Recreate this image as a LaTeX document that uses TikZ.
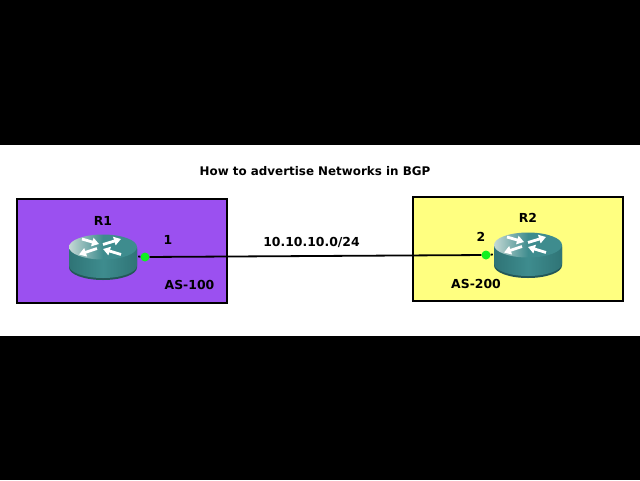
\documentclass[tikz,border=0pt]{standalone}
\usepackage{fontspec}
\setmainfont{DejaVu Sans}
\usetikzlibrary{positioning,arrows.meta}

\definecolor{asviolet}{HTML}{9B50F0}
\definecolor{asyellow}{HTML}{FFFF80}
\definecolor{routerteal}{HTML}{3E8C8E}
\definecolor{routerdark}{HTML}{2F7476}
\definecolor{routerlight}{HTML}{C4D8D4}
\definecolor{portgreen}{HTML}{10F020}

\tikzset{
	asbox/.style={draw=black,line width=1.5pt,minimum width=210pt,minimum height=104pt,inner sep=0pt},
	lbl/.style={font=\bfseries\fontsize{12.4}{14}\selectfont,inner sep=0pt},
	port/.style={circle,fill=portgreen,minimum size=9pt,inner sep=0pt},
	link/.style={draw=black,line width=1.8pt},
	swarrow/.style={white,line width=2.8pt,-{Triangle[length=7pt,width=8.5pt]}},
	router/.style={minimum width=70pt,minimum height=48pt,inner sep=0pt,
		path picture={
			\begin{scope}[shift={(path picture bounding box.center)}]
				\fill[routerdark!75!black] (-34,-8) -- (-34,11) arc[start angle=180,end angle=0,x radius=34,y radius=12.5] -- (34,-8) -- cycle;
				\shade[left color=routerdark,right color=routerdark,middle color=routerteal] (-34,-9.5) -- (-34,9) arc[start angle=180,end angle=0,x radius=34,y radius=12.5] -- (34,-9.5) -- cycle;
				\shade[left color=routerlight,right color=routerteal,middle color=routerteal] (0,-9.5) ellipse[x radius=34,y radius=12.5];
				\draw[swarrow] (-21,-17.5) -- (-4,-12.5);
				\draw[swarrow] (0,-12) -- (18,-17.5);
				\draw[swarrow] (18,-2) -- (0,-7.5);
				\draw[swarrow] (-6,-8) -- (-24,-2);
			\end{scope}
		}},
}

\begin{document}
\begin{tikzpicture}[x=1pt,y=-1pt,node distance=20pt,on grid]
	\useasboundingbox (0,0) rectangle (640,480);
	\fill[black] (0,0) rectangle (640,480);
	\fill[white] (0,145) rectangle (640,336);

	\node[font=\bfseries\fontsize{11.9}{13}\selectfont,inner sep=0pt] (title) at (315,171) {How to advertise Networks in BGP};

	\node[asbox,fill=asviolet] (as1) at (122,251) {};
	\node[asbox,fill=asyellow] (as2) at (518,249) {};

	\node[router] (r1) at (103,256.5) {};
	\node[router] (r2) at (528,254.5) {};
	\node[port] (p1) at (145,257) {};
	\node[port] (p2) at (486,255) {};

	\path[link] (r1.east) -- (p1);
	\path[link] (p1) -- (p2);
	\path[link] (p2) -- (r2.west);

	\node[lbl,above=35.5pt of r1] (r1name) {R1};
	\node[lbl,above=36.5pt of r2] (r2name) {R2};
	\node[lbl,above right=17pt and 23pt of p1] (if1) {1};
	\node[lbl,above left=18pt and 5pt of p2] (if2) {2};
	\node[lbl] (as1name) at (189.5,285) {AS-100};
	\node[lbl] (as2name) at (476,284) {AS-200};
	\node[lbl] (net) at (311.5,242) {10.10.10.0/24};
\end{tikzpicture}
\end{document}
